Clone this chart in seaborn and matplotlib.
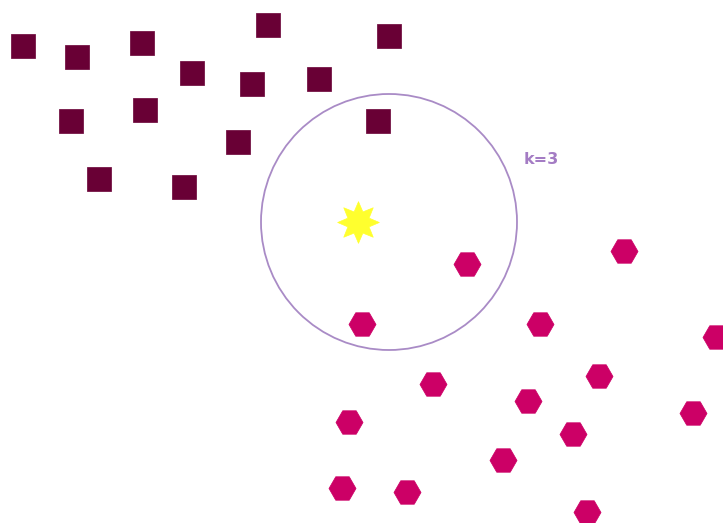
import matplotlib
matplotlib.use("Agg")
import matplotlib.pyplot as plt
import seaborn as sns
import pandas as pd
import numpy as np
from matplotlib.patches import Circle
from matplotlib.path import Path

# Class A (squares)
sq_x = [23, 77, 142, 268, 389, 192, 252, 319, 71, 145, 238, 378, 99, 184]
sq_y = [46, 57, 43, 25, 36, 73, 84, 79, 121, 110, 142, 121, 179, 187]
# Class B (hexagons)
hx_x = [467, 624, 362, 540, 716, 433, 599, 528, 349, 693, 573, 503, 342, 407, 587]
hx_y = [264, 251, 324, 324, 337, 384, 376, 401, 422, 413, 434, 460, 488, 492, 512]
# Query point
q_x = [358]
q_y = [222]
# Neighbourhood circle
circle_center = (389, 222)
circle_radius = 128
k_label = "k=3"

# 8-pointed star marker shape with a fuller body
n_pts = 8
inner = 0.55
ang = np.pi / 2 + np.arange(2 * n_pts) * np.pi / n_pts
rad = np.where(np.arange(2 * n_pts) % 2 == 0, 1.0, inner)
verts = np.column_stack([rad * np.cos(ang), rad * np.sin(ang)])
verts = np.vstack([verts, verts[:1]])
star_path = Path(verts, closed=True)

sns.set_style("white")
fig = plt.figure(figsize=(7.23, 5.23), dpi=100)
ax = fig.add_axes([0, 0, 1, 1])

df_sq = pd.DataFrame({"x": sq_x, "y": sq_y})
df_hx = pd.DataFrame({"x": hx_x, "y": hx_y})
df_q = pd.DataFrame({"x": q_x, "y": q_y})

sns.scatterplot(data=df_sq, x="x", y="y", marker="s", s=285, color="#690035",
                edgecolor="#690035", linewidth=0.5, ax=ax)
sns.scatterplot(data=df_hx, x="x", y="y", marker="H", s=380, color="#cc0066",
                edgecolor="#cc0066", linewidth=0.5, ax=ax)
sns.scatterplot(data=df_q, x="x", y="y", marker=star_path, s=900, color="#ffff2e",
                edgecolor="#ffff2e", linewidth=0.5, ax=ax, zorder=5)

ax.add_patch(Circle(circle_center, circle_radius, fill=False,
                    edgecolor="#a98bc6", linewidth=1.3))
ax.text(541, 160, k_label, color="#a47cc4", fontsize=11.5, fontweight="bold",
        ha="center", va="center")

ax.set_xlim(0, 723)
ax.set_ylim(523, 0)
ax.set_axis_off()
fig.savefig("out.png", dpi=100)
